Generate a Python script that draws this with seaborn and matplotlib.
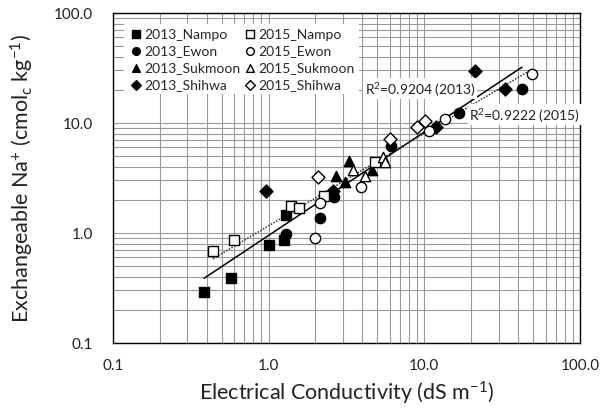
import numpy as np
import pandas as pd
import matplotlib
matplotlib.use("Agg")
import matplotlib.pyplot as plt
from matplotlib.ticker import LogLocator, FuncFormatter, NullFormatter
import seaborn as sns

# Data (EC in dS/m, exchangeable Na+ in cmolc/kg)
SITES = ["Nampo", "Ewon", "Sukmoon", "Shihwa"]
YEARS = [2013, 2015]
MARKERS = {"Nampo": "s", "Ewon": "o", "Sukmoon": "^", "Shihwa": "D"}

ec_2013_nampo = [0.385, 0.57, 1.0, 1.25, 1.29]
na_2013_nampo = [0.29, 0.39, 0.77, 0.86, 1.47]
ec_2015_nampo = [0.44, 0.60, 1.39, 1.57, 2.27, 4.8]
na_2015_nampo = [0.68, 0.87, 1.77, 1.70, 2.15, 4.4]

ec_2013_ewon = [1.29, 2.14, 2.65, 6.1, 16.6, 42.4]
na_2013_ewon = [0.98, 1.36, 2.12, 6.2, 12.3, 20.4]
ec_2015_ewon = [2.0, 2.14, 3.95, 10.7, 13.6, 49.0]
na_2015_ewon = [0.90, 1.86, 2.6, 8.4, 10.8, 28.0]

ec_2013_sukmoon = [2.73, 3.3, 3.11, 4.6]
na_2013_sukmoon = [3.3, 4.5, 2.9, 3.7]
ec_2015_sukmoon = [3.5, 4.15, 5.4, 5.6]
na_2015_sukmoon = [3.7, 3.3, 4.9, 4.4]

ec_2013_shihwa = [0.96, 2.6, 11.8, 21.0, 33.0]
na_2013_shihwa = [2.4, 2.4, 9.2, 29.5, 20.3]
ec_2015_shihwa = [2.08, 6.0, 9.0, 10.1]
na_2015_shihwa = [3.2, 7.2, 9.2, 10.5]

R2_LABELS = {2013: "0.9204", 2015: "0.9222"}


def build_frame():
    rows = []
    src = {
        (2013, "Nampo"): (ec_2013_nampo, na_2013_nampo),
        (2015, "Nampo"): (ec_2015_nampo, na_2015_nampo),
        (2013, "Ewon"): (ec_2013_ewon, na_2013_ewon),
        (2015, "Ewon"): (ec_2015_ewon, na_2015_ewon),
        (2013, "Sukmoon"): (ec_2013_sukmoon, na_2013_sukmoon),
        (2015, "Sukmoon"): (ec_2015_sukmoon, na_2015_sukmoon),
        (2013, "Shihwa"): (ec_2013_shihwa, na_2013_shihwa),
        (2015, "Shihwa"): (ec_2015_shihwa, na_2015_shihwa),
    }
    for (year, site), (ec, na) in src.items():
        for x, y in zip(ec, na):
            rows.append({"year": year, "site": site, "EC": x, "Na": y})
    return pd.DataFrame(rows)


df = build_frame()

sns.set_theme(style="white")
plt.rcParams["font.family"] = ["Lato", "DejaVu Sans"]
plt.rcParams["mathtext.fontset"] = "custom"
plt.rcParams["mathtext.rm"] = "Lato"
plt.rcParams["mathtext.default"] = "regular"

fig = plt.figure(figsize=(6.03, 4.10), dpi=100)
ax = fig.add_axes([0.187, 0.161, 0.775, 0.805])
ax.set_xscale("log")
ax.set_yscale("log")

# points: 2013 filled, 2015 open
for year in YEARS:
    for site in SITES:
        sub = df[(df.year == year) & (df.site == site)]
        face = "black" if year == 2013 else "white"
        size = 55 if MARKERS[site] != "D" else 44
        sns.scatterplot(data=sub, x="EC", y="Na", marker=MARKERS[site], s=size,
                        color=face, edgecolor="black", linewidth=1.0,
                        label=f"{year}_{site}", ax=ax, zorder=4)

# power-law trend lines per year
styles = {2013: dict(color="black", lw=1.1, ls="-"),
          2015: dict(color="#333333", lw=1.1, ls=(0, (1, 1)))}
for year in YEARS:
    sub = df[df.year == year]
    b, a = np.polyfit(np.log10(sub.EC), np.log10(sub.Na), 1)
    xs = np.logspace(np.log10(sub.EC.min()), np.log10(sub.EC.max()), 50)
    fit = pd.DataFrame({"EC": xs, "Na": 10 ** (a + b * np.log10(xs))})
    sns.lineplot(data=fit, x="EC", y="Na", ax=ax, zorder=3, legend=False, **styles[year])

ax.set_xlim(0.1, 100)
ax.set_ylim(0.1, 100)

fmt = FuncFormatter(lambda v, p: f"{v:.1f}")
for axis in (ax.xaxis, ax.yaxis):
    axis.set_major_locator(LogLocator(base=10, numticks=10))
    axis.set_minor_locator(LogLocator(base=10, subs=np.arange(2, 10), numticks=20))
    axis.set_major_formatter(fmt)
    axis.set_minor_formatter(NullFormatter())

ax.grid(True, which="both", color="#9a9a9a", lw=0.8)
ax.set_axisbelow(True)
ax.tick_params(which="both", direction="in", color="black", width=0.8)
ax.tick_params(which="major", length=5)
ax.tick_params(which="minor", length=4)
ax.tick_params(axis="x", pad=11, labelsize=11, labelcolor="#222222")
ax.tick_params(axis="y", pad=14, labelsize=11, labelcolor="#222222")
for sp in ax.spines.values():
    sp.set_color("black")
    sp.set_linewidth(1.0)

ax.set_xlabel("Electrical Conductivity (dS m$^{-1}$)", fontsize=15.5, color="#222222")
ax.set_ylabel("Exchangeable Na$^{+}$ (cmol$_{c}$ kg$^{-1}$)", fontsize=15.5, color="#222222")
ax.xaxis.set_label_coords(0.5, -0.11)
ax.yaxis.set_label_coords(-0.165, 0.5)

# R2 annotations
box = dict(facecolor="white", edgecolor="none", pad=1.0)
ax.text(21.4, 20.5, f"R$^{{2}}$={R2_LABELS[2013]} (2013)", ha="right", va="center",
        fontsize=10, color="#222222", bbox=box, zorder=5)
ax.text(19.5, 11.9, f"R$^{{2}}$={R2_LABELS[2015]} (2015)", ha="left", va="center",
        fontsize=10, color="#222222", bbox=box, zorder=5)

handles, labels = ax.get_legend_handles_labels()
leg = ax.legend(handles, labels, ncol=2, loc="upper left", fontsize=10,
                frameon=True, facecolor="white", edgecolor="none", framealpha=1,
                fancybox=False, handletextpad=0.1, columnspacing=0.25,
                labelspacing=0.35, borderpad=0.3, borderaxespad=0.0,
                markerscale=0.75, handlelength=1.0,
                bbox_to_anchor=(0.025, 0.968))
leg.set_zorder(6)

fig.savefig("out.png", dpi=100)
